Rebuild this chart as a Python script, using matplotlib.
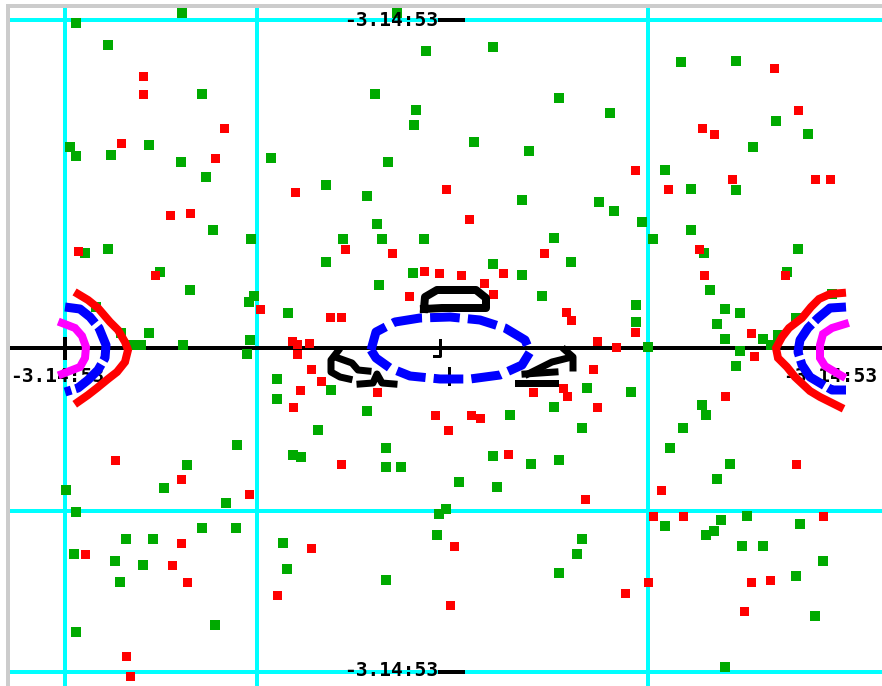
import matplotlib
matplotlib.use("Agg")
import matplotlib.pyplot as plt

# ---- scattered samples -------------------------------------------------
green_x = [-3.64, -2.58, -3.32, -2.38, -3.70, -3.64, -3.29, -2.91, -2.59, -1.69,
           -2.34, -2.27, -1.89, -3.55, -3.32, -2.80, -2.50, -1.86, -1.91, -3.44,
           -1.52, -3.19, -2.91, -3.07, -2.99, -2.57, -1.90, -1.93, -0.43, -0.14,
           0.53, -0.65, 1.19, -0.24, -0.26, 0.34, 0.89, -0.52, -1.14, -0.73,
           0.82, -0.63, -0.97, -0.58, -0.16, 1.14, -1.14, 0.53, 1.31, -0.27,
           0.82, -0.61, 1.02, 2.41, 2.96, 1.70, 3.36, 3.68, 3.13, 2.25,
           2.51, 2.96, 1.59, 1.74, 2.02, 2.13, 2.51, 2.64, 3.58, 3.47,
           2.70, 1.96, 2.85, 3.00, 1.96, 2.77, 3.92, 3.56, 3.38, 2.85,
           3.23, -3.64, -3.74, -2.76, -2.53, -2.03, -2.14, -2.38, -2.04, -3.14,
           -2.87, -3.66, -3.25, -2.97, -3.20, -3.64, -2.25, -1.63, -1.63, -1.47,
           -1.57, -1.53, -1.09, -0.73, -1.22, -1.39, -0.54, -0.54, -0.39, 0.19,
           0.57, 0.53, 0.91, 1.19, 0.70, 1.14, 1.42, 1.47, -0.01, 0.06,
           -0.03, -0.54, 1.42, 1.37, 1.19, 2.08, 3.00, 2.96, 3.31, 1.91,
           2.62, 2.66, 2.43, 2.30, 2.90, 2.77, 2.25, 2.81, 3.07, 2.74,
           2.66, 3.02, 3.23, 3.60, 3.83, 3.56, 3.75, 2.85]
green_y = [3.25, 3.35, 3.03, 2.54, 2.01, 1.92, 1.93, 2.03, 1.86, 1.90,
           1.71, 1.18, 1.09, 0.95, 0.99, 0.76, 0.58, 0.52, 0.46, 0.41,
           0.35, 0.15, 0.15, 0.03, 0.03, 0.03, 0.08, -0.06, 3.35, 2.97,
           3.01, 2.54, 2.50, 2.38, 2.23, 2.06, 1.97, 1.86, 1.63, 1.52,
           1.48, 1.24, 1.09, 1.09, 1.09, 1.10, 0.86, 0.84, 0.86, 0.75,
           0.73, 0.63, 0.52, 2.86, 2.87, 2.35, 2.27, 2.14, 2.01, 1.78,
           1.59, 1.58, 1.46, 1.37, 1.26, 1.09, 1.18, 0.95, 0.99, 0.76,
           0.58, 0.43, 0.39, 0.35, 0.26, 0.24, 0.54, 0.30, 0.13, 0.09,
           0.09, -1.64, -1.42, -1.40, -1.17, -0.97, -1.55, -1.80, -1.80, -1.91,
           -1.91, -2.06, -2.13, -2.17, -2.34, -2.84, -2.77, -0.31, -0.51, -1.07,
           -1.95, -2.21, -0.42, -0.63, -0.82, -1.09, -1.00, -1.19, -1.19, -1.34,
           -1.39, -1.08, -1.16, -1.12, -0.67, -0.59, -0.80, -0.40, -1.66, -1.61,
           -1.87, -2.32, -1.91, -2.06, -2.25, 0.01, -0.03, -0.18, 0.03, -0.44,
           -0.57, -0.67, -0.80, -1.00, -1.16, -1.31, -1.78, -1.72, -1.68, -1.83,
           -1.87, -1.98, -1.98, -1.76, -2.13, -2.28, -2.68, -3.19]

red_x = [-2.97, -2.97, -2.16, -3.19, -2.25, -1.45, -2.70, -2.50, -3.62, -2.85,
         -1.80, -1.48, 0.06, 0.29, -0.95, -0.48, 1.04, -0.16, -0.01, 0.21,
         0.63, 0.44, -0.31, 0.53, -1.10, -0.99, 1.26, 1.31, -1.43, -1.31,
         -1.43, 3.34, 3.58, 2.62, 2.74, 1.95, 2.92, 3.75, 3.90, 2.28,
         2.59, 2.64, 3.45, 1.95, 3.11, 1.57, -3.25, -2.59, -1.91, -3.55,
         -2.59, -2.68, -2.53, -1.63, -3.14, -3.10, -1.47, -1.40, -1.29, -1.19,
         -0.63, -0.05, 0.31, 0.40, 0.08, 0.68, -0.99, 0.93, 1.23, 1.27,
         1.45, -1.29, 0.14, 0.10, 1.76, 1.53, 1.57, 2.85, 3.14, 3.56,
         2.21, 2.13, 2.43, 3.83, 2.08, 1.85, 3.11, 3.30, 3.04]
red_y = [2.72, 2.54, 2.20, 2.05, 1.90, 1.56, 1.33, 1.35, 0.97, 0.73,
         0.39, 0.07, 1.59, 1.29, 0.99, 0.95, 0.95, 0.77, 0.75, 0.73,
         0.75, 0.65, 0.52, 0.54, 0.31, 0.31, 0.36, 0.28, 0.04, 0.05,
         -0.06, 2.80, 2.38, 2.20, 2.14, 1.78, 1.69, 1.69, 1.69, 1.59,
         0.99, 0.73, 0.73, 0.16, 0.15, 0.07, -1.12, -1.31, -1.46, -2.06,
         -1.95, -2.17, -2.34, -2.47, -3.08, -3.28, -0.59, -0.42, -0.21, -0.33,
         -0.44, -0.67, -0.67, -0.70, -0.82, -1.06, -1.16, -0.44, -0.40, -0.48,
         -1.51, -2.00, -1.98, -2.57, 0.01, -0.21, -0.59, -0.48, -0.08, -1.16,
         -1.42, -1.68, -1.68, -1.68, -2.34, -2.45, -2.34, -2.32, -2.63]

# ---- branch curves at the two ends ------------------------------------
left_red_x = [-3.62, -3.52, -3.42, -3.30, -3.22, -3.15, -3.12, -3.15, -3.23, -3.32, -3.43, -3.52, -3.62]
left_red_y = [0.54, 0.48, 0.40, 0.26, 0.18, 0.06, -0.02, -0.14, -0.24, -0.31, -0.40, -0.47, -0.54]
left_blue_x = [-3.75, -3.60, -3.50, -3.41, -3.34, -3.35, -3.42, -3.52, -3.62, -3.75]
left_blue_y = [0.41, 0.39, 0.31, 0.20, 0.03, -0.10, -0.22, -0.32, -0.40, -0.44]
left_mag_x = [-3.78, -3.65, -3.58, -3.54, -3.55, -3.60, -3.78]
left_mag_y = [0.25, 0.20, 0.12, 0.01, -0.10, -0.19, -0.26]

right_red_x = [4.02, 3.90, 3.79, 3.71, 3.62, 3.49, 3.42, 3.36, 3.38, 3.47, 3.55, 3.70, 3.80, 3.92, 4.00]
right_red_y = [0.55, 0.54, 0.49, 0.41, 0.30, 0.20, 0.11, 0.00, -0.10, -0.19, -0.29, -0.43, -0.49, -0.55, -0.59]
right_blue_x = [4.06, 3.90, 3.78, 3.68, 3.60, 3.58, 3.62, 3.70, 3.80, 3.92, 4.06]
right_blue_y = [0.41, 0.40, 0.30, 0.20, 0.08, -0.04, -0.17, -0.29, -0.35, -0.42, -0.42]
right_mag_x = [4.05, 3.92, 3.83, 3.80, 3.80, 3.85, 3.95, 4.02]
right_mag_y = [0.24, 0.20, 0.14, 0.03, -0.10, -0.18, -0.24, -0.28]

# ---- central loop and black contours ----------------------------------
loop_x = [-0.69, -0.64, -0.45, -0.20, 0.10, 0.40, 0.65, 0.85, 0.90, 0.82, 0.60, 0.30, 0.00, -0.30, -0.50, -0.64, -0.69]
loop_y = [-0.02, 0.16, 0.26, 0.30, 0.31, 0.28, 0.20, 0.08, -0.04, -0.17, -0.27, -0.31, -0.31, -0.28, -0.20, -0.10, -0.02]

cap_x = [-0.16, -0.15, -0.03, 0.36, 0.46, 0.46, 0.02, -0.16]
cap_y = [0.39, 0.51, 0.58, 0.58, 0.50, 0.40, 0.40, 0.39]

contours = [
    ([-1.02, -1.09, -1.09, -1.00, -0.91], [-0.03, -0.12, -0.24, -0.29, -0.31]),
    ([-1.02, -0.88, -0.82, -0.72], [-0.10, -0.15, -0.22, -0.23]),
    ([-0.80, -0.67, -0.63, -0.58, -0.46], [-0.36, -0.35, -0.26, -0.35, -0.36]),
    ([1.25, 1.33, 1.33], [-0.02, -0.09, -0.20]),
    ([1.28, 1.12, 1.00, 0.88], [-0.10, -0.14, -0.20, -0.26]),
    ([0.78, 1.15], [-0.35, -0.35]),
    ([0.85, 1.15], [-0.26, -0.24]),
]

# ---- grid, frame and labels -------------------------------------------
grid_x = [-3.75, -1.83, 2.08]
grid_y = [3.28, -1.63, -3.24]
label_text = "-3.14:53"

X_LIM = (-4.40, 4.42)
Y_LIM = (-3.38, 3.48)

fig = plt.figure(figsize=(8.82, 6.86), dpi=100)
ax = fig.add_axes([0, 0, 1, 1])
ax.set_xlim(*X_LIM)
ax.set_ylim(*Y_LIM)
ax.axis("off")

CYAN = "#00ffff"
GREEN = "#00aa00"
RED = "#ff0000"
BLUE = "#0000ff"
MAGENTA = "#ff00ff"

px = 72 / 100  # one pixel in points

# light grey frame on left and top
ax.plot([-4.32, -4.32], [Y_LIM[0], 3.44], color="#cccccc", lw=4 * px, solid_capstyle="butt", zorder=1)
ax.plot([-4.34, X_LIM[1]], [3.42, 3.42], color="#cccccc", lw=4 * px, solid_capstyle="butt", zorder=1)

# cyan grid
ax.vlines(grid_x, Y_LIM[0], 3.40, colors=CYAN, lw=4 * px, zorder=1)
ax.hlines(grid_y, -4.30, X_LIM[1], colors=CYAN, lw=4 * px, zorder=1)

# horizontal axis and ticks
ax.plot([-4.30, X_LIM[1]], [0, 0], color="black", lw=4 * px, solid_capstyle="butt", zorder=2)
ax.plot([-3.75, -3.75], [0.09, -0.10], color="black", lw=4 * px, zorder=2)
ax.plot([0.0, 0.0, -0.06], [0.08, -0.08, -0.08], color="black", lw=3 * px, zorder=2)
ax.plot([0.09, 0.09], [-0.20, -0.36], color="black", lw=3 * px, zorder=2)
for yy in (3.28, -3.24):
    ax.plot([-0.02, 0.25], [yy, yy], color="black", lw=4 * px, solid_capstyle="butt", zorder=2)

# scattered samples
ax.plot(green_x, green_y, ls="none", marker="s", ms=10 * px, mew=0, color=GREEN, zorder=3)
ax.plot(red_x, red_y, ls="none", marker="s", ms=9 * px, mew=0, color=RED, zorder=3)

# axis value labels (sit beneath the curves)
font = dict(family="DejaVu Sans Mono", fontsize=14, fontweight="bold", color="black", zorder=3.5)
ax.text(-0.02, 3.28, label_text, ha="right", va="center", **font)
ax.text(-0.02, -3.22, label_text, ha="right", va="center", **font)
ax.text(-4.30, -0.28, label_text, ha="left", va="center", **font)
ax.text(3.43, -0.28, label_text, ha="left", va="center", clip_on=True, **font)

# end branches
for xs, ys in ((left_red_x, left_red_y), (right_red_x, right_red_y)):
    ax.plot(xs, ys, color=RED, lw=8 * px, solid_joinstyle="miter", zorder=4)
for xs, ys in ((left_blue_x, left_blue_y), (right_blue_x, right_blue_y)):
    ax.plot(xs, ys, color=BLUE, lw=9 * px, dashes=(4.0, 0.5), dash_capstyle="butt", zorder=4)
for xs, ys in ((left_mag_x, left_mag_y), (right_mag_x, right_mag_y)):
    ax.plot(xs, ys, color=MAGENTA, lw=8 * px, solid_joinstyle="miter", zorder=4)

# central loop and contours
ax.plot(loop_x, loop_y, color=BLUE, lw=9 * px, dashes=(3.3, 0.9), dash_capstyle="butt", zorder=4)
ax.plot(cap_x, cap_y, color="black", lw=8 * px, solid_joinstyle="round", zorder=4)
for xs, ys in contours:
    ax.plot(xs, ys, color="black", lw=7 * px, solid_capstyle="projecting", zorder=4)

fig.savefig("out.png", dpi=100)
